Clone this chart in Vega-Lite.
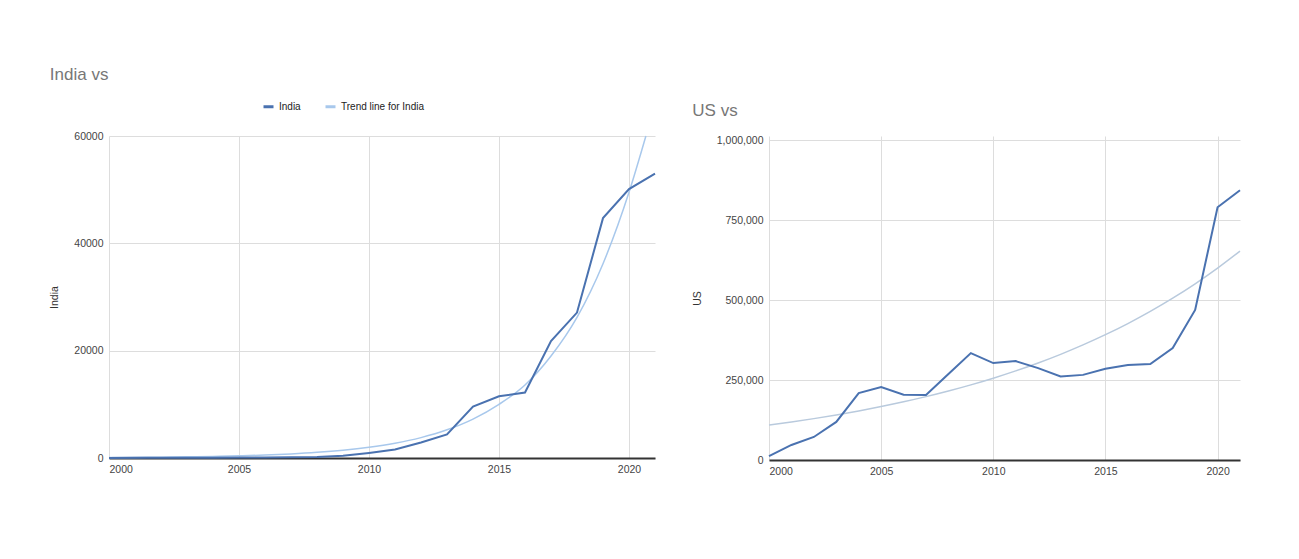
{
  "$schema": "https://vega.github.io/schema/vega-lite/v6.json",
  "background": "white",
  "padding": {"left": 49, "top": 66, "right": 5, "bottom": 5},
  "spacing": 33,
  "datasets": {
    "india": [
      {"year": 2000, "value": 20, "series": "India"},
      {"year": 2001, "value": 30, "series": "India"},
      {"year": 2002, "value": 40, "series": "India"},
      {"year": 2003, "value": 50, "series": "India"},
      {"year": 2004, "value": 60, "series": "India"},
      {"year": 2005, "value": 80, "series": "India"},
      {"year": 2006, "value": 100, "series": "India"},
      {"year": 2007, "value": 130, "series": "India"},
      {"year": 2008, "value": 200, "series": "India"},
      {"year": 2009, "value": 400, "series": "India"},
      {"year": 2010, "value": 950, "series": "India"},
      {"year": 2011, "value": 1600, "series": "India"},
      {"year": 2012, "value": 2900, "series": "India"},
      {"year": 2013, "value": 4400, "series": "India"},
      {"year": 2014, "value": 9600, "series": "India"},
      {"year": 2015, "value": 11500, "series": "India"},
      {"year": 2016, "value": 12200, "series": "India"},
      {"year": 2017, "value": 21800, "series": "India"},
      {"year": 2018, "value": 27100, "series": "India"},
      {"year": 2019, "value": 44700, "series": "India"},
      {"year": 2020, "value": 50100, "series": "India"},
      {"year": 2021, "value": 53000, "series": "India"},
      {"year": 2000, "value": 80, "series": "Trend line for India"},
      {"year": 2001, "value": 110, "series": "Trend line for India"},
      {"year": 2002, "value": 150, "series": "Trend line for India"},
      {"year": 2003, "value": 210, "series": "Trend line for India"},
      {"year": 2004, "value": 290, "series": "Trend line for India"},
      {"year": 2005, "value": 400, "series": "Trend line for India"},
      {"year": 2006, "value": 550, "series": "Trend line for India"},
      {"year": 2007, "value": 760, "series": "Trend line for India"},
      {"year": 2008, "value": 1050, "series": "Trend line for India"},
      {"year": 2009, "value": 1450, "series": "Trend line for India"},
      {"year": 2010, "value": 2000, "series": "Trend line for India"},
      {"year": 2011, "value": 2750, "series": "Trend line for India"},
      {"year": 2012, "value": 3800, "series": "Trend line for India"},
      {"year": 2013, "value": 5250, "series": "Trend line for India"},
      {"year": 2014, "value": 7250, "series": "Trend line for India"},
      {"year": 2015, "value": 10000, "series": "Trend line for India"},
      {"year": 2016, "value": 13600, "series": "Trend line for India"},
      {"year": 2017, "value": 19000, "series": "Trend line for India"},
      {"year": 2018, "value": 26200, "series": "Trend line for India"},
      {"year": 2019, "value": 36200, "series": "Trend line for India"},
      {"year": 2020, "value": 49500, "series": "Trend line for India"},
      {"year": 2020.65, "value": 60000, "series": "Trend line for India"}
    ],
    "us": [
      {"year": 2000, "us": 12000, "trend": 109000},
      {"year": 2001, "us": 47000, "trend": 118700},
      {"year": 2002, "us": 72000, "trend": 129300},
      {"year": 2003, "us": 119000, "trend": 140800},
      {"year": 2004, "us": 209000, "trend": 153300},
      {"year": 2005, "us": 228000, "trend": 167000},
      {"year": 2006, "us": 204000, "trend": 181800},
      {"year": 2007, "us": 203000, "trend": 198000},
      {"year": 2008, "us": 269000, "trend": 215600},
      {"year": 2009, "us": 334000, "trend": 234800},
      {"year": 2010, "us": 303000, "trend": 255700},
      {"year": 2011, "us": 309000, "trend": 278400},
      {"year": 2012, "us": 287000, "trend": 303200},
      {"year": 2013, "us": 261000, "trend": 330200},
      {"year": 2014, "us": 266000, "trend": 359600},
      {"year": 2015, "us": 285000, "trend": 391600},
      {"year": 2016, "us": 297000, "trend": 426400},
      {"year": 2017, "us": 300000, "trend": 464400},
      {"year": 2018, "us": 350000, "trend": 505700},
      {"year": 2019, "us": 469000, "trend": 550700},
      {"year": 2020, "us": 790000, "trend": 599700},
      {"year": 2021, "us": 843000, "trend": 653000}
    ]
  },
  "config": {
    "font": "Liberation Sans",
    "view": {"stroke": null},
    "axis": {
      "labelFontSize": 10.5,
      "labelColor": "#444444",
      "titleFontSize": 10.5,
      "titleColor": "#333333",
      "titleFontWeight": "normal",
      "gridColor": "#dddddd",
      "gridWidth": 1,
      "ticks": false,
      "tickSize": 0,
      "domain": false,
      "labelPadding": 6
    },
    "axisX": {"domain": true, "domainColor": "#333333", "domainWidth": 2},
    "title": {"fontSize": 17, "fontWeight": "normal", "color": "#777777", "anchor": "start", "baseline": "bottom"}
  },
  "hconcat": [
    {
      "width": 546,
      "height": 322,
      "title": {"text": "India vs", "offset": 47},
      "data": {"name": "india"},
      "encoding": {
        "x": {"field": "year", "type": "quantitative", "scale": {"domain": [2000, 2021], "nice": false, "zero": false}, "axis": {"values": [2000, 2005, 2010, 2015, 2020], "format": "d", "title": null}},
        "y": {"field": "value", "type": "quantitative", "scale": {"domain": [0, 60000], "nice": false}, "axis": {"values": [0, 20000, 40000, 60000], "format": "d", "title": "India", "titlePadding": 14}},
        "color": {
          "field": "series", "type": "nominal",
          "scale": {"domain": ["India", "Trend line for India"], "range": ["#4a72b0", "#a8c8ec"]},
          "legend": {"orient": "none", "legendX": 153, "legendY": -36, "direction": "horizontal", "title": null, "symbolType": "stroke", "symbolStrokeWidth": 3, "symbolSize": 100, "labelFontSize": 10, "labelColor": "#222222", "columnPadding": 18}
        }
      },
      "layer": [
        {"transform": [{"filter": "datum.series == 'Trend line for India'"}], "mark": {"type": "line", "strokeWidth": 1.5, "interpolate": "monotone"}},
        {"transform": [{"filter": "datum.series == 'India'"}], "mark": {"type": "line", "strokeWidth": 2}}
      ]
    },
    {
      "width": 471,
      "height": 324,
      "title": {"text": "US vs", "offset": 15},
      "data": {"name": "us"},
      "encoding": {
        "x": {"field": "year", "type": "quantitative", "scale": {"domain": [2000, 2021], "nice": false, "zero": false}, "axis": {"values": [2000, 2005, 2010, 2015, 2020], "format": "d", "title": null}}
      },
      "layer": [
        {"mark": {"type": "line", "strokeWidth": 1.5, "color": "#b9cadd", "interpolate": "monotone"},
         "encoding": {"y": {"field": "trend", "type": "quantitative", "scale": {"domain": [0, 1012500], "nice": false}, "axis": {"values": [0, 250000, 500000, 750000, 1000000], "format": ",d", "title": "US", "titlePadding": 14}}}},
        {"mark": {"type": "line", "strokeWidth": 2, "color": "#4a72b0"},
         "encoding": {"y": {"field": "us", "type": "quantitative", "scale": {"domain": [0, 1012500], "nice": false}, "axis": {"values": [0, 250000, 500000, 750000, 1000000], "format": ",d", "title": "US", "titlePadding": 14}}}}
      ]
    }
  ]
}
